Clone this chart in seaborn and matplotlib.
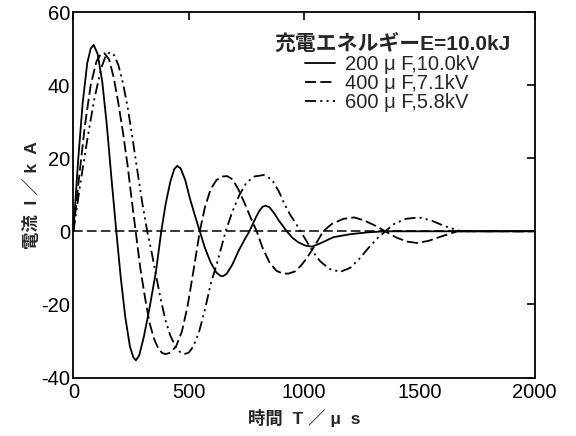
import matplotlib
matplotlib.use("Agg")
import matplotlib.pyplot as plt
import seaborn as sns
import pandas as pd

# ---- data ----
t_200 = [0, 20, 40, 60, 75, 88, 105, 125, 145, 165, 186, 205, 225, 245, 260, 271, 285, 305, 330, 358,
         381, 400, 420, 437, 450, 465, 485, 505, 527, 548, 570, 595, 620, 638, 648, 665, 690, 715, 740,
         763, 785, 805, 820, 833, 850, 870, 890, 910, 925, 950, 975, 1005, 1034, 1070, 1128, 1200, 1273,
         1350, 1500, 1700, 2000]
i_200 = [0, 19, 35, 46, 50, 51, 48.5, 41, 29, 14.5, 0, -12.5, -23.5, -31.5, -34.5, -35.3, -34, -29, -21, -11,
         0, 7.5, 13.5, 17, 17.9, 17.2, 14, 9, 4.3, 0, -4.5, -8.5, -11.3, -12.2, -12.3, -11.6, -9, -5.5, -2.5,
         0, 3, 5.5, 6.7, 7, 6.6, 5, 3, 1.3, 0, -1.8, -3, -3.9, -4.2, -3.3, -1.6, -0.8, -0.3,
         0, 0, 0, 0]

t_400 = [0, 25, 50, 75, 100, 120, 135, 155, 175, 195, 215, 235, 252, 270, 290, 310, 330, 350, 370, 385,
         400, 420, 445, 470, 495, 520, 548, 570, 595, 620, 645, 667, 690, 715, 740, 770, 795, 820, 850,
         880, 905, 931, 960, 985, 1010, 1034, 1060, 1083, 1120, 1170, 1217, 1260, 1310, 1352, 1400, 1445,
         1490, 1540, 1600, 1665, 1800, 2000]
i_400 = [0, 15, 29, 40, 46.5, 48.6, 48.7, 47, 42, 35, 27, 18, 9, 0, -10, -18, -25, -29.5, -32.3, -33.3,
         -33.6, -33.2, -31.5, -27.5, -20.5, -11, 0, 6.5, 11.5, 14, 15, 15.1, 14.2, 11.5, 8, 3.5, 0, -4.5, -8.5,
         -10.8, -11.5, -11.6, -11, -9.5, -7.5, -5.2, -2.5, 0, 2, 3.4, 3.8, 3.0, 1.5, 0, -1.7, -2.8,
         -3.2, -2.6, -1.3, 0, 0, 0]

t_600 = [0, 30, 60, 90, 120, 140, 158, 175, 195, 215, 235, 255, 275, 298, 320, 340, 358, 380, 400, 420,
         445, 465, 480, 500, 520, 545, 570, 595, 626, 660, 690, 720, 750, 785, 826, 860, 890, 915, 940,
         966, 985, 1010, 1034, 1070, 1110, 1157, 1200, 1240, 1280, 1320, 1352, 1390, 1440, 1499, 1550,
         1610, 1680, 1800, 2000]
i_600 = [0, 13, 25, 36, 44.5, 48, 49, 48.3, 45.5, 40.5, 34, 26, 17.5, 8, 0, -6, -12, -19, -24.5, -28.5,
         -31.8, -33.2, -33.6, -33.2, -31.5, -27.5, -21.5, -14.5, -8, 0, 5.5, 10, 13.3, 15, 15.4, 14.2, 11, 7.5, 4.5,
         2, 0, -2.6, -5.2, -8.2, -10.3, -11.1, -10, -7.5, -4.5, -1.8, 0, 2, 3.4, 3.8, 3,
         1.4, 0, 0, 0]

labels = ["200 μ F,10.0kV", "400 μ F,7.1kV", "600 μ F,5.8kV"]
legend_title = "充電エネルギーE=10.0kJ"
x_ticks = [0, 500, 1000, 1500, 2000]
y_ticks = [-40, -20, 0, 20, 40, 60]
x_label = "時間  T ／ μ  s"
y_label = "電流  I ／ k  A"

df = pd.concat([
    pd.DataFrame({"t": t_200, "I": i_200, "series": labels[0]}),
    pd.DataFrame({"t": t_400, "I": i_400, "series": labels[1]}),
    pd.DataFrame({"t": t_600, "I": i_600, "series": labels[2]}),
], ignore_index=True)

# ---- style ----
sns.set_style("white")
plt.rcParams["font.family"] = ["Liberation Sans", "Noto Sans CJK JP"]
plt.rcParams["axes.unicode_minus"] = False
plt.rcParams["lines.scale_dashes"] = False

fig = plt.figure(figsize=(5.76, 4.36), dpi=100)
ax = fig.add_axes([73.4 / 576, 1 - 377.5 / 436, (534.7 - 73.4) / 576, (377.5 - 12) / 436])

styles = {
    labels[0]: "-",
    labels[1]: (0, (8, 3)),
    labels[2]: (0, (8, 3, 1.5, 3, 1.5, 3)),
}

ax.axhline(0, color="black", lw=1.1, linestyle=(0, (7, 3)), zorder=1)

for lab in labels:
    sub = df[df["series"] == lab]
    sns.lineplot(data=sub, x="t", y="I", ax=ax, color="black", lw=1.3,
                 linestyle=styles[lab], label=lab, estimator=None, sort=False)

ax.set_xlim(0, 2000)
ax.set_ylim(-40, 60)
ax.set_xticks(x_ticks)
ax.set_yticks(y_ticks)
ax.set_xticklabels([str(v) for v in x_ticks])
ax.set_yticklabels([str(v) for v in y_ticks])
ax.tick_params(direction="in", length=6, width=1.2, top=True, right=True,
               labelsize=14.5, colors="black")
ax.tick_params(axis="x", pad=4)
ax.tick_params(axis="y", pad=2.5)
for s in ax.spines.values():
    s.set_visible(True)
    s.set_color("black")
    s.set_linewidth(1.3)

ax.set_xlabel(x_label, fontsize=12.5, fontweight="bold", labelpad=5)
ax.set_ylabel(y_label, fontsize=12.5, fontweight="bold", labelpad=1)

leg = ax.legend(title=legend_title, loc="upper left", bbox_to_anchor=(0.435, 0.94),
                frameon=False, fontsize=14.5, title_fontsize=15,
                handlelength=1.5, handletextpad=0.5, labelspacing=0.02, borderaxespad=0,
                borderpad=0)
leg.get_title().set_fontweight("bold")
for h in leg.get_lines():
    h.set_linewidth(1.3)

fig.savefig("out.png", dpi=100)
